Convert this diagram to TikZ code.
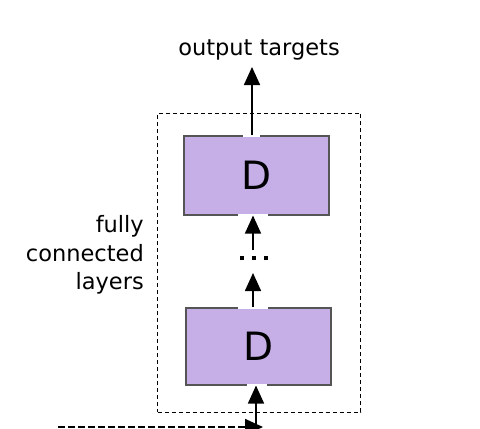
\documentclass[tikz,border=0pt]{standalone}
\usepackage{fontspec}
\setmainfont{DejaVu Sans}
\usetikzlibrary{arrows.meta}
\definecolor{boxfill}{HTML}{C5AFE6}
\definecolor{boxline}{HTML}{555555}
\begin{document}
\begin{tikzpicture}[x=1pt,y=-1pt,
  dbox/.style={draw=boxline, fill=boxfill, line width=1.1pt, minimum width=145pt, font=\fontsize{39}{44}\selectfont, inner sep=0pt},
  conn/.style={line width=1.6pt, -{Triangle[length=18pt,width=16pt]}},
  frame/.style={draw, line width=0.8pt, dash pattern=on 4pt off 3pt, inner sep=0pt},
  lbl/.style={font=\fontsize{22.5}{28.5}\selectfont, inner sep=0pt},
  gap/.style={white, line width=2.6pt}]
\useasboundingbox (0,0) rectangle (480,429);
\node[frame, minimum width=203pt, minimum height=299pt] (frame) at (259,262.5) {};
\node[dbox, minimum height=79pt] (d2) at (256.5,175.5) {D};
\node[dbox, minimum height=77pt] (d1) at (258.5,346.5) {D};
\node[lbl, anchor=base] (title) at (259,55) {output targets};
\node[lbl, align=right, anchor=east] (side) at (144,255) {fully\\connected\\layers};
\node[inner sep=0pt] (dots) at (254,258) {\rule{4.5pt}{4.5pt}\hspace{7.5pt}\rule{4.5pt}{4.5pt}\hspace{7.5pt}\rule{4.5pt}{4.5pt}};
\coordinate (ttip) at (252,67);
\coordinate (dtop) at (253,250);
\coordinate (dbot) at (253,273);
\coordinate (inb) at (256,432);
\coordinate (src) at (58,427);
\coordinate (dst) at (263,427);
% white gaps in box borders where the arrows meet them
\draw[gap] ([xshift=-13.5pt]d2.north) -- ([xshift=3.5pt]d2.north);
\draw[gap] ([xshift=-18.5pt]d2.south) -- ([xshift=11.5pt]d2.south);
\draw[gap] ([xshift=-20.5pt]d1.north) -- ([xshift=9.5pt]d1.north);
\draw[gap] ([xshift=-11.5pt]d1.south) -- ([xshift=8.5pt]d1.south);
% connectors
\draw[conn] (d2.north -| ttip) -- (ttip);
\draw[conn] (dtop) -- (d2.south -| dtop);
\draw[conn] (d1.north -| dbot) -- (dbot);
\draw[conn] (inb) -- (d1.south -| inb);
\draw[line width=1.6pt, dash pattern=on 7pt off 3pt, -{Triangle[length=18pt,width=16pt]}] (src) -- (dst);
\end{tikzpicture}
\end{document}
